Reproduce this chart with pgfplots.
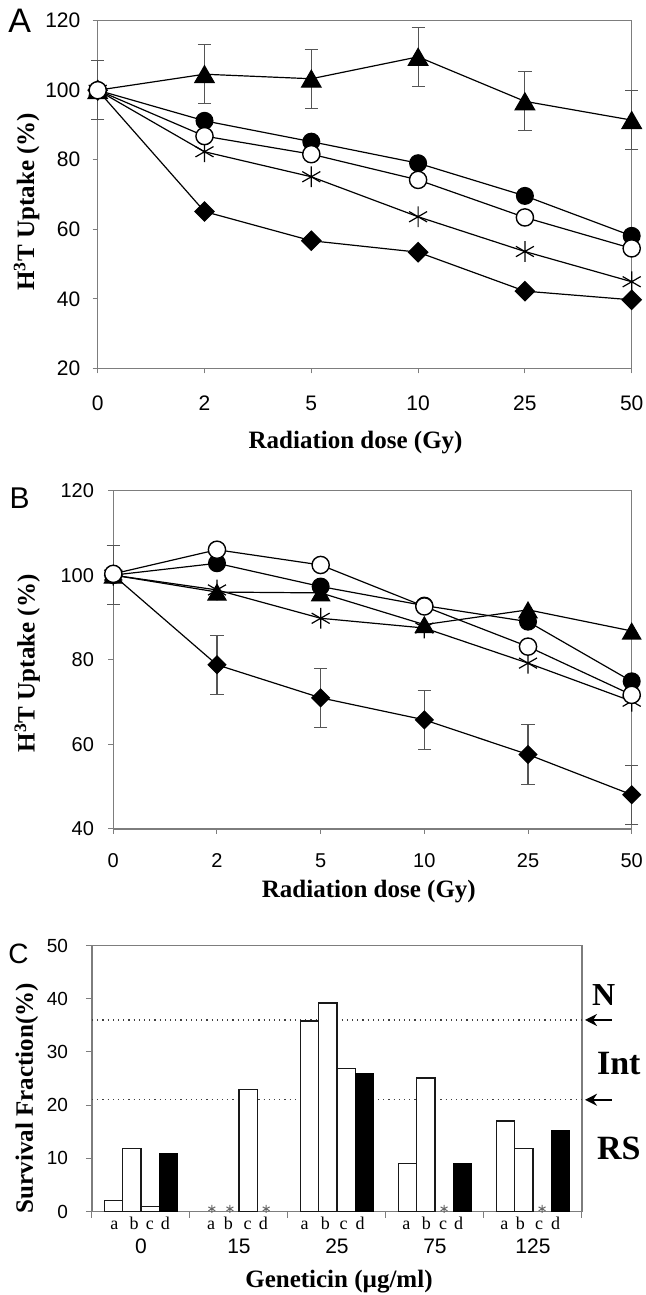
\documentclass[border=0pt]{standalone}
\usepackage{pgfplots}
\pgfplotsset{compat=1.18}
\usepackage{fontspec}
\setmainfont{Liberation Serif}
\newfontfamily\arial{Liberation Sans}
\usetikzlibrary{arrows.meta}

\definecolor{axgray}{RGB}{125,125,125}
\definecolor{errgray}{RGB}{85,85,85}

\pgfplotsset{
  panel/.style={
    scale only axis, clip=false,
    axis line style={axgray, line width=0.6pt},
    every tick/.style={axgray, line width=0.5pt},
    tick align=outside, tick pos=left, major tick length=2.5pt,
    /pgf/number format/assume math mode=true,
    label style={font=\bfseries\fontsize{12.5}{14}\selectfont},
  },
  dose/.style={xmin=0, xmax=5, xtick={0,...,5}, xticklabels={0,2,5,10,25,50},
    xlabel={Radiation dose (Gy)}, ylabel={H\textsuperscript{3}T Uptake (\%)}},
  ln/.style={black, line width=0.6pt},
  tri/.style={ln, mark=triangle*, mark size=5.6pt, mark options={fill=black, yshift=-1.4pt}},
  fc/.style={ln, mark=*, mark size=4.2pt, mark options={fill=black}},
  oc/.style={ln, mark=*, mark size=4.3pt, mark options={fill=white, line width=0.7pt}},
  ast/.style={ln, mark=asterisk, mark size=5.2pt, mark options={line width=0.6pt}},
  dia/.style={ln, mark=square*, mark size=3.4pt, mark options={fill=black, rotate=45}},
  ebar/.style={error bars/y dir=both, error bars/y explicit,
    error bars/error bar style={errgray, line width=0.55pt},
    error bars/error mark options={rotate=90, mark size=3.3pt, errgray, line width=0.55pt}},
}
% bar letter and group label under panel C
\newcommand\bl[2]{\node[anchor=base, inner sep=0pt, font=\fontsize{9}{10}\selectfont]
    at ([yshift=-8.8pt]axis cs:#1,0) {#2};}
\newcommand\gl[2]{\node[anchor=base, inner sep=0pt, font=\arial\fontsize{10.5}{12}\selectfont]
    at ([yshift=-21.2pt]axis cs:#1,0) {#2};}

\begin{document}
\begin{tikzpicture}

% ---------- panel A ----------
\begin{axis}[panel, dose,
  at={(48.85pt,-10.35pt)}, anchor=north west,
  width=267pt, height=173.8pt,
  ymin=20, ymax=120, ytick={20,40,...,120},
  ticklabel style={font=\arial\fontsize{10.5}{12}\selectfont},
  xticklabel style={anchor=base, inner sep=0pt, yshift=-18.4pt},
  yticklabel style={anchor=east, inner sep=0pt, xshift=-6pt},
  xlabel style={at={(axis description cs:0.483,-0.214)}, anchor=center},
  ylabel style={at={(axis description cs:-0.133,0.479)}, anchor=center},
]
\addplot[dia] coordinates {(0,100) (1,65.1) (2,56.7) (3,53.4) (4,42.2) (5,39.7)};
\addplot[ast] coordinates {(0,100) (1,82.3) (2,75.1) (3,63.6) (4,53.6) (5,44.9)};
\addplot[tri, ebar] coordinates {
  (0,100) +- (0,8.5) (1,104.6) +- (0,8.5) (2,103.3) +- (0,8.5)
  (3,109.6) +- (0,8.5) (4,96.8) +- (0,8.5) (5,91.4) +- (0,8.5)};
\addplot[fc] coordinates {(0,100) (1,91.2) (2,85.2) (3,79.0) (4,69.6) (5,58.1)};
\addplot[oc] coordinates {(0,100) (1,86.8) (2,81.6) (3,74.2) (4,63.4) (5,54.5)};
\end{axis}

% ---------- panel B ----------
\begin{axis}[panel, dose,
  at={(56.65pt,-245.25pt)}, anchor=north west,
  width=259.2pt, height=169.25pt,
  ymin=40, ymax=120, ytick={40,60,...,120},
  ticklabel style={font=\arial\fontsize{10}{12}\selectfont},
  xticklabel style={anchor=base, inner sep=0pt, yshift=-17pt},
  yticklabel style={anchor=east, inner sep=0pt, xshift=-7pt},
  xlabel style={at={(axis description cs:0.493,-0.185)}, anchor=center},
  ylabel style={at={(axis description cs:-0.166,0.489)}, anchor=center},
]
\addplot[dia, mark size=3.1pt, ebar] coordinates {
  (0,100) +- (0,7) (1,78.8) +- (0,7) (2,71.0) +- (0,7)
  (3,65.8) +- (0,7) (4,57.6) +- (0,7) (5,48.1) +- (0,7)};
\addplot[ast] coordinates {(0,100) (1,96.5) (2,89.8) (3,87.5) (4,79.2) (5,70.2)};
\addplot[tri, mark size=5.2pt] coordinates {(0,100) (1,96.0) (2,95.8) (3,88.3) (4,91.8) (5,86.8)};
\addplot[fc] coordinates {(0,100) (1,102.8) (2,97.3) (3,92.8) (4,89.0) (5,74.9)};
\addplot[oc] coordinates {(0,100.3) (1,106.0) (2,102.4) (3,92.6) (4,83.1) (5,71.7)};
\end{axis}

% ---------- panel C ----------
\begin{axis}[panel,
  at={(46pt,-472.75pt)}, anchor=north west,
  width=245pt, height=133pt,
  xmin=-0.5, xmax=4.5, ymin=0, ymax=50, ytick={0,10,...,50},
  xtick={-0.5,0.5,...,4.5}, xticklabels={}, major tick length=3pt,
  ticklabel style={font=\arial\fontsize{9.5}{11}\selectfont},
  yticklabel style={anchor=east, inner sep=0pt, xshift=-8.8pt},
  xlabel={Geneticin (µg/ml)}, ylabel={Survival Fraction(\%)},
  xlabel style={at={(axis description cs:0.504,-0.263)}, anchor=center},
  ylabel style={at={(axis description cs:-0.133,0.426)}, anchor=center},
  bar width=0.185,
]
\addplot[black!75, line width=0.6pt, dotted, forget plot] coordinates {(-0.5,36) (4.5,36)};
\addplot[black!75, line width=0.6pt, dotted, forget plot] coordinates {(-0.5,21) (4.5,21)};
% a, b, c: open bars; d: filled bars
\addplot[ybar, bar shift=-0.2775, draw=black!90, fill=white, line width=0.6pt]
  coordinates {(0,2) (2,35.8) (3,9) (4,17)};
\addplot[ybar, bar shift=-0.0925, draw=black!90, fill=white, line width=0.6pt]
  coordinates {(0,11.8) (2,39.2) (3,25.1) (4,11.8)};
\addplot[ybar, bar shift=0.0925, draw=black!90, fill=white, line width=0.6pt]
  coordinates {(0,0.9) (1,23) (2,26.9)};
\addplot[ybar, bar shift=0.2775, draw=black, fill=black, line width=0.6pt]
  coordinates {(0,10.8) (2,26) (3,9) (4,15.2)};
% not detected
\addplot[only marks, mark=asterisk, mark size=2pt, black!60, line width=0.5pt]
  coordinates {(0.7225,0.5) (0.9075,0.5) (1.2775,0.5) (3.0925,0.5) (4.0925,0.5)};

\bl{-0.272}{a}\bl{-0.069}{b}\bl{0.090}{c}\bl{0.250}{d}
\bl{0.716}{a}\bl{0.892}{b}\bl{1.087}{c}\bl{1.250}{d}
\bl{1.670}{a}\bl{1.882}{b}\bl{2.068}{c}\bl{2.237}{d}
\bl{2.708}{a}\bl{2.911}{b}\bl{3.082}{c}\bl{3.241}{d}
\bl{3.707}{a}\bl{3.870}{b}\bl{4.063}{c}\bl{4.231}{d}
\gl{0}{0}\gl{1}{15}\gl{2}{25}\gl{3}{75}\gl{4}{125}

\draw[line width=1.1pt, -{Stealth[length=6pt, width=6pt]}]
  ([xshift=14.85pt]axis cs:4.5,36) -- ([xshift=1.5pt]axis cs:4.5,36);
\draw[line width=1.1pt, -{Stealth[length=6pt, width=6pt]}]
  ([xshift=14.85pt]axis cs:4.5,21) -- ([xshift=1.5pt]axis cs:4.5,21);
\node[anchor=west, inner sep=0pt, font=\bfseries\fontsize{16}{18}\selectfont]
  at ([xshift=4.85pt]axis cs:4.5,40.7) {N};
\node[anchor=west, inner sep=0pt, font=\bfseries\fontsize{17}{19}\selectfont]
  at ([xshift=7.35pt]axis cs:4.5,27.8) {Int};
\node[anchor=west, inner sep=0pt, font=\bfseries\fontsize{17}{19}\selectfont]
  at ([xshift=7.35pt]axis cs:4.5,11.8) {RS};
\end{axis}

% panel letters
\node[font=\arial\fontsize{17}{19}\selectfont, inner sep=0pt] at (9.8pt,-10.4pt) {A};
\node[font=\arial\fontsize{15}{17}\selectfont, inner sep=0pt] at (9.8pt,-249.25pt) {B};
\node[font=\arial\fontsize{14}{16}\selectfont, inner sep=0pt] at (9.3pt,-476.7pt) {C};

\pgfresetboundingbox
\path[use as bounding box] (0,0) rectangle (323pt,-647.5pt);
\end{tikzpicture}
\end{document}
